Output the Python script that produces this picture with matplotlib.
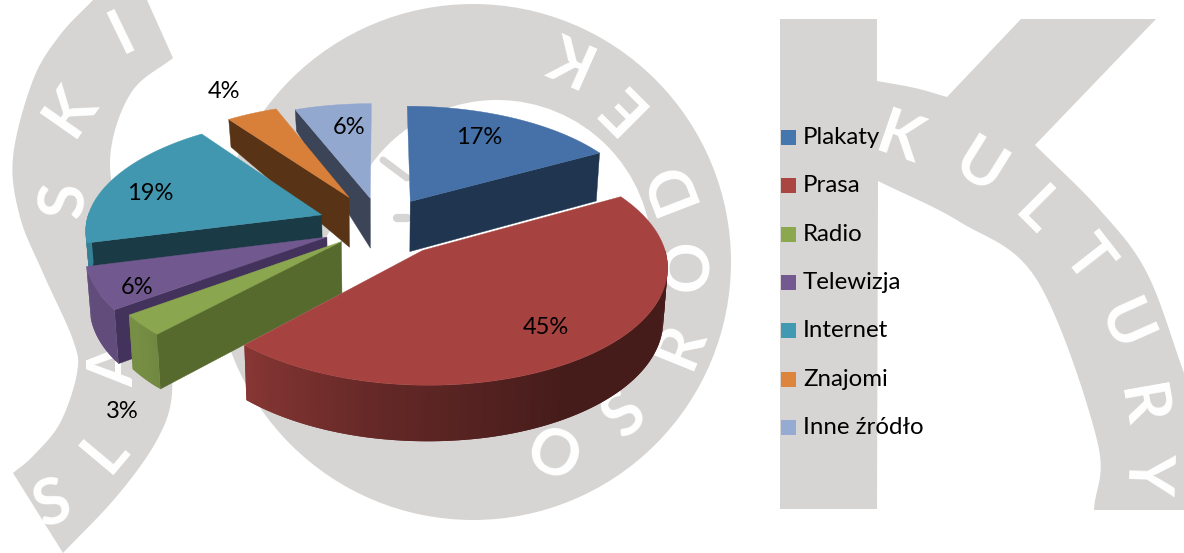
import numpy as np
import matplotlib
matplotlib.use("Agg")
import matplotlib.pyplot as plt
from matplotlib.colors import to_rgb
from matplotlib.patches import Circle, Polygon

LABELS = ["Plakaty", "Prasa", "Radio", "Telewizja", "Internet", "Znajomi", "Inne źródło"]
VALUES = [17, 45, 3, 6, 19, 4, 6]

TOP_COLORS = ["#4571A8", "#A64340", "#8AA64F", "#71588F", "#4097AF", "#D87F3A", "#92A8CF"]
EDGE_COLORS = ["#20354F", "#4A1C1A", "#566A2E", "#43325B", "#1A3A45", "#593315", "#3C4558"]
LEGEND_COLORS = ["#4676AE", "#AB4542", "#8BA84F", "#73598F", "#4299B2", "#DD843D", "#95ABD2"]

# where Excel's best fit put the labels, in pixels
LABEL_POS = [(479, 137), (546, 328), (122, 411), (137, 288), (150, 193), (224, 92), (349, 128)]

GREY = "#D6D5D3"
FONT = "Lato"

# pie camera
CX, CY = 381, 225
RX, RY = 236, 112
PERSP = 0.12
EXPLODE = [0.25, 0.28, 0.22, 0.25, 0.27, 0.29, 0.25]
# back to front
DRAW_ORDER = [6, 5, 0, 4, 3, 2, 1]


def project(u, v):
    s = 1 / (1 + PERSP * v)
    return CX + RX * u * s, CY - RY * v * s


def depth(v):
    return np.interp(v, [-1.2, 0.7, 1.2], [56, 48, 20])


def lower(u, v):
    x, y = project(u, v)
    return CX + (x - CX) * 0.985, y + depth(v)


def arc_shade(t):
    return np.interp(t, [90, 150, 190, 230, 360], [0.42, 0.42, 0.6, 0.86, 0.86])


def smooth(pts, n=14):
    # Catmull-Rom through the points
    p = np.array(pts, dtype=float)
    p = np.vstack([2 * p[0] - p[1], p, 2 * p[-1] - p[-2]])
    out = []
    for i in range(1, len(p) - 2):
        for a in np.linspace(0, 1, n, endpoint=False):
            out.append(0.5 * (2 * p[i] + (p[i + 1] - p[i - 1]) * a
                              + (2 * p[i - 1] - 5 * p[i] + 4 * p[i + 1] - p[i + 2]) * a ** 2
                              + (3 * p[i] - p[i - 1] - 3 * p[i + 1] + p[i + 2]) * a ** 3))
    out.append(p[-2])
    return out


def draw_watermark(ax):
    # left band
    band = (smooth([(93, 0), (60, 35), (33, 80), (13, 157), (20, 217), (43, 273),
                    (73, 340), (77, 373), (60, 423), (33, 456), (13, 473)])
            + smooth([(63, 553), (117, 496), (157, 440), (172, 393), (165, 330),
                      (140, 270), (114, 195), (112, 143), (133, 90), (173, 58)])
            + [(147, 0)])
    ax.add_patch(Polygon(band, fc=GREY, lw=0, zorder=1))

    # ring
    ax.add_patch(Circle((473, 262), 258, fc=GREY, lw=0, zorder=1))
    ax.add_patch(Circle((497, 255), 155, fc="white", lw=0, zorder=1.1))
    ax.add_patch(Circle((440, 300), 130, fc="white", lw=0, zorder=1.1))
    ax.plot([383, 407], [160, 178], color=GREY, lw=5, solid_capstyle="round", zorder=1.2)
    ax.plot([397, 407], [218, 218], color=GREY, lw=6, solid_capstyle="round", zorder=1.2)

    # K
    k = ([(780, 19), (877, 19)]
         + smooth([(877, 81), (915, 88), (947, 97)])
         + [(1021, 19), (1156, 19)]
         + smooth([(1035, 145), (1100, 210), (1147, 273), (1184, 373)])
         + [(1184, 510)]
         + smooth([(1094, 510), (1097, 440), (1037, 280), (960, 222), (878, 181)])
         + [(877, 509), (780, 509)])
    ax.add_patch(Polygon(k, fc=GREY, lw=0, zorder=1))

    letters = [
        ("K", 900, 140, -19), ("U", 980, 167, -32), ("L", 1037, 213, -45),
        ("T", 1087, 260, -52), ("U", 1123, 326, -66), ("R", 1140, 406, -80), ("Y", 1147, 473, -92),
        ("O", 553, 457, -22), ("S", 625, 415, 42), ("R", 680, 345, 68), ("O", 690, 265, 90),
        ("D", 670, 185, 111), ("E", 620, 105, 135), ("K", 565, 55, 156),
        ("S", 53, 505, 20), ("L", 105, 450, 50), ("A", 115, 365, 90),
        ("S", 65, 200, 85), ("K", 70, 110, 55), ("I", 122, 33, 26),
    ]
    for ch, x, y, rot in letters:
        ax.text(x, y, ch, color="white", fontsize=46, fontfamily=FONT, fontweight="bold",
                rotation=rot, rotation_mode="anchor", ha="center", va="center", zorder=1.5)


def draw_slice(ax, i, start, end):
    mid = np.radians((start + end) / 2)
    au, av = EXPLODE[i] * np.sin(mid), EXPLODE[i] * np.cos(mid)
    ts = np.linspace(start, end, max(int(end - start) + 2, 6))
    us = au + np.sin(np.radians(ts))
    vs = av + np.cos(np.radians(ts))
    z = 3 + DRAW_ORDER.index(i) * 0.1
    top = [project(u, v) for u, v in zip(us, vs)]
    bot = [lower(u, v) for u, v in zip(us, vs)]
    apex_t, apex_b = project(au, av), lower(au, av)

    # radial faces, only those turned to the camera
    for j, normal in ((0, start - 90), (-1, end + 90)):
        if np.cos(np.radians(normal)) < -0.01:
            quad = [apex_t, top[j], bot[j], apex_b]
            ax.add_patch(Polygon(quad, fc=EDGE_COLORS[i], ec=EDGE_COLORS[i], lw=0.3, zorder=z))

    # rim, shaded strip by strip; strips overlap so no seams show
    base = np.array(to_rgb(TOP_COLORS[i]))
    for j in range(len(ts) - 1):
        if np.cos(np.radians(ts[j])) > 0 and np.cos(np.radians(ts[j + 1])) > 0:
            continue
        c = base * arc_shade((ts[j] + ts[j + 1]) / 2)
        k = min(j + 2, len(ts) - 1)
        quad = top[j:k + 1] + bot[j:k + 1][::-1]
        ax.add_patch(Polygon(quad, fc=c, lw=0, zorder=z + 0.01))

    ax.add_patch(Polygon([apex_t] + top, fc=TOP_COLORS[i], ec=TOP_COLORS[i], lw=0.3, zorder=z + 0.02))


def main():
    fig = plt.figure(figsize=(11.84, 5.53), dpi=100)
    ax = fig.add_axes([0, 0, 1, 1])
    ax.set_xlim(0, 1184)
    ax.set_ylim(553, 0)
    ax.axis("off")

    draw_watermark(ax)

    edges = np.cumsum([0] + VALUES) / sum(VALUES) * 360
    for i in DRAW_ORDER:
        draw_slice(ax, i, edges[i], edges[i + 1])

    for val, (x, y) in zip(VALUES, LABEL_POS):
        ax.text(x, y, f"{val}%", fontsize=17, fontfamily=FONT, color="black",
                ha="center", va="center", zorder=6)

    # legend
    for i, name in enumerate(LABELS):
        y = 137.5 + i * 48.3
        ax.add_patch(Polygon([(781, y - 7.5), (796, y - 7.5), (796, y + 7.5), (781, y + 7.5)],
                             fc=LEGEND_COLORS[i], lw=0, zorder=6))
        ax.text(803, y, name, fontsize=17.3, fontfamily=FONT, color="black",
                ha="left", va="center", zorder=6)

    fig.savefig("out.png", dpi=100)
    plt.close(fig)


if __name__ == "__main__":
    main()
